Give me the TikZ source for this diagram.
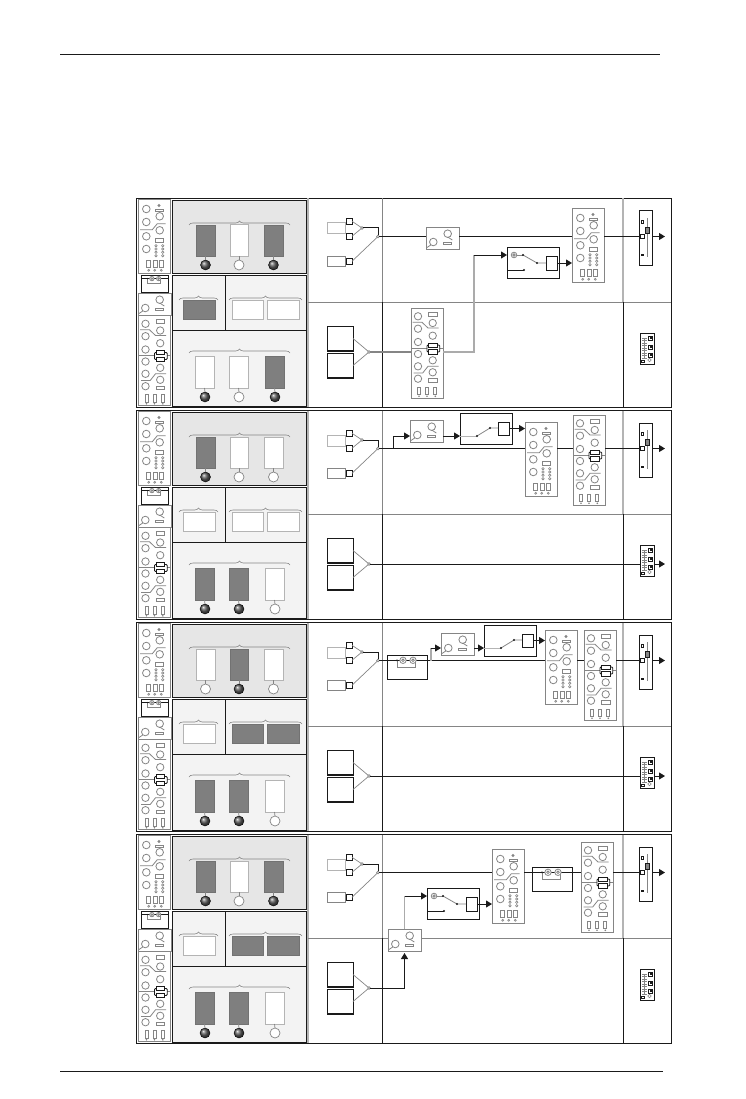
\documentclass[tikz,border=0pt]{standalone}
\usepackage{tikz}
\usetikzlibrary{arrows.meta,calc,decorations.pathreplacing,shapes.geometric}
\definecolor{dk}{HTML}{7F7F7F}
\definecolor{gr}{HTML}{858585}
\definecolor{lg}{HTML}{B4B4B4}
\definecolor{ink}{HTML}{1A1A1A}
\definecolor{topbg}{HTML}{E6E6E6}
\definecolor{lowbg}{HTML}{F3F3F3}
\def\rackS#1#2#3{\node[rackbox,minimum width=32pt,minimum height=74pt] (#1) at (#2,#3) {};
  \pic at (#1.north west) {rackshort};}
\def\rackT#1#2#3{\node[rackbox,minimum width=32pt,minimum height=90pt] (#1) at (#2,#3) {};
  \pic at (#1.north west) {racktall};}
\def\compB#1#2#3{\node[rackbox,minimum width=33pt,minimum height=22pt] (#1) at (#2,#3) {};
  \pic at (#1.north west) {compin};}
\def\dualB#1#2#3{\node[blackbox,minimum width=40pt,minimum height=24pt] (#1) at (#2,#3) {};
  \pic at (#1.north west) {dualin};}
\def\swA#1#2#3{\node[blackbox,minimum width=52pt,minimum height=31pt] (#1) at (#2,#3) {};
  \node[blackbox,anchor=center,minimum width=11pt,minimum height=14pt] (#1sq) at ($(#1.north west)+(44.5,16)$) {};
  \pic at (#1.north west) {swinA};}
\def\swB#1#2#3{\node[blackbox,minimum width=52pt,minimum height=31pt] (#1) at (#2,#3) {};
  \node[blackbox,anchor=center,minimum width=11.5pt,minimum height=13pt] (#1sq) at ($(#1.north west)+(44,15.5)$) {};
  \pic at (#1.north west) {swinB};}
\begin{document}
\begin{tikzpicture}[x=1pt,y=-1pt,>=Latex,
  every node/.style={inner sep=0pt,outer sep=0pt},
  rackbox/.style={rectangle,anchor=north west,draw=gr,fill=white,line width=.9pt},
  blackbox/.style={rectangle,anchor=north west,draw=ink,fill=white,line width=1pt},
  glyph/.style={draw=gr,line width=.8pt},
  knob/.style={glyph,fill=white},
  sig/.style={draw=ink,line width=1pt},
  sigG/.style={draw=lg!80!gr,line width=1.1pt},
  arr/.style={sig,-{Triangle[length=6pt,width=7pt]}},
  thinG/.style={draw=gr,line width=.7pt},
  frame/.style={draw=ink,line width=.9pt},
  junc/.style={circle,draw=gr,fill=white,line width=.6pt,minimum size=2.8pt},
  panel/.style={draw=ink,line width=.9pt},
  ampD/.style={rectangle,fill=dk,draw=dk!90!black,line width=.6pt},
  ampW/.style={rectangle,fill=white,draw=lg,line width=1pt},
  ballD/.style={circle,minimum size=10pt,draw=black,line width=.4pt,shading=ball,ball color=black!65},
  ballW/.style={circle,minimum size=10pt,draw=gr,fill=white,line width=.7pt},
  bracey/.style={draw=gr,line width=.6pt,decorate,decoration={brace,amplitude=4pt}},
  micbox/.style={rectangle,anchor=north west,draw=lg,fill=white,line width=1pt,minimum width=18pt},
  micsq/.style={rectangle,anchor=north west,draw=ink,fill=white,line width=.9pt,minimum width=6pt,minimum height=6.5pt},
  stereo/.style={rectangle,anchor=north west,draw=ink,fill=white,line width=.9pt,minimum width=26pt,minimum height=25pt},
  rackshort/.pic={
    \foreach \cx/\cy in {8.3/10,21.7/17.3,8.3/23,21.7/31.3,8.3/37.3,8.3/50}
      \draw[knob] (\cx,\cy) circle (3.8);
    \draw[glyph] (21,6.5) circle (1);
    \draw[glyph] (17.7,10) rectangle (25,12.7);
    \draw[glyph] (2,30.7) -- (14.3,30.7) -- (19.3,24.7) -- (27.7,24.7);
    \draw[glyph] (17.7,39.7) rectangle (25.3,43.7);
    \foreach \cx in {18,24.7} \foreach \cy in {46.7,50,53.3,56.7}
      \draw[glyph,line width=.6pt] (\cx,\cy) circle (1.2);
    \foreach \cx in {8.7,15.3,21.7} \draw[glyph] (\cx,61.3) rectangle ++(3.7,7.4);
    \foreach \cx in {10.7,16.7,23.3} \draw[glyph,line width=.6pt] (\cx,71.3) circle (1);
  },
  racktall/.pic={
    \foreach \cx/\cy in {7/8.3,21.7/15,7/20.7,21.7/27.7,7/34,7/46,21.7/52.3,7/58.3,21.7/64.3,7/70.7}
      \draw[knob] (\cx,\cy) circle (3.7);
    \draw[glyph] (17.7,4) rectangle (26,8);
    \draw[glyph] (1.7,14.3) -- (11,14.3) -- (17,20) -- (27.7,20);
    \draw[glyph] (2.7,65) -- (11.7,65) -- (17,58.3) -- (27.7,58.3);
    \draw[glyph] (0,40) -- (16,40);
    \draw[glyph] (28.7,40) -- (32,40);
    \draw[ink,line width=.8pt,rounded corners=1pt] (16,37) rectangle (28.7,44);
    \draw[ink,fill=white,line width=.8pt] (17.7,35) rectangle (26.3,39.3);
    \draw[ink,fill=white,line width=.8pt] (17.7,41.7) rectangle (26.3,46);
    \draw[glyph] (17.7,70.7) rectangle (26,74.3);
    \foreach \cx in {6.7,14.7,22.7} \draw[glyph] (\cx,79) rectangle ++(3,7.7);
    \foreach \cx in {8,16,24.3} \fill[gr] (\cx,88.3) circle (.9);
  },
  compin/.pic={
    \draw[knob] (7.3,15) circle (3.8);
    \draw[knob] (21.7,6.7) circle (3.8);
    \draw[glyph] (17.3,15) rectangle (25.7,17.7);
    \draw[glyph] (21.7,10) -- (26.3,13);
    \draw[glyph] (.7,20.7) -- (5,17.8);
  },
  dualin/.pic={
    \draw[ink,line width=1.4pt] (0,5.3) -- (40,5.3);
    \draw[gr,line width=.7pt] (10,5.3) -- (10,12) -- (28,12) -- (28,7);
    \fill[ink] (10,5.3) circle (1);
    \foreach \cx in {16,26} {
      \draw[knob] (\cx,5.3) circle (3.2);
      \draw[glyph] (\cx,5.3) circle (1.3);
    }
  },
  swinA/.pic={
    \draw[knob] (7,8) circle (2.8);
    \draw[glyph] (7,8) circle (1.2);
    \draw[glyph] (9.8,8) -- (16,8);
    \draw[glyph] (16,8) -- (30,16) -- (39,16);
    \draw[ink,line width=.8pt] (0,23) -- (17,23);
    \foreach \cx/\cy in {16/8,30/16,17/23} \fill[ink] (\cx,\cy) circle (1.1);
  },
  swinB/.pic={
    \draw[lg,line width=1pt] (0,23) -- (17,23);
    \draw[glyph] (17,23) -- (30,15) -- (38,15);
    \foreach \cx/\cy in {17/23,30/15} \fill[ink] (\cx,\cy) circle (1.1);
  },
  faderin/.pic={
    \draw[ink,fill=white,line width=.7pt] (2.3,9.7) rectangle ++(2.5,2.5);
    \draw[gr,line width=.8pt] (8,7) -- (8,46);
    \draw[ink,fill=gr,line width=.6pt] (6,16.5) rectangle ++(4,5.5);
    \fill[ink] (2,43) rectangle ++(2.5,2);
  },
  mixin/.pic={
    \draw[gr,line width=.6pt] (4,5) -- (4,25);
    \foreach \cy in {5,7.5,...,25} \draw[gr,line width=.5pt] (2,\cy) -- (6.5,\cy);
    \foreach \cy in {3,12,20} {
      \draw[ink,line width=.6pt] (8.5,\cy) rectangle ++(4,4);
      \fill[ink] (9.5,\cy+1) rectangle ++(2,2);
    }
    \draw[ink,fill=white,line width=.7pt] (1.5,27) rectangle ++(2.5,2.5);
    \draw[gr,line width=.5pt] (9.5,27) circle (1.8);
  }]
\useasboundingbox (0,0) rectangle (746,1099);
\coordinate (ruleTL) at (60,54);
\coordinate (ruleTR) at (660,54);
\coordinate (ruleBL) at (60,1071);
\coordinate (ruleBR) at (663,1071);
\draw[ink,line width=.7pt] (ruleTL) -- (ruleTR);
\draw[ink,line width=.7pt] (ruleBL) -- (ruleBR);
% the part every row shares
\foreach \r/\dy/\ta/\tb/\tc/\ma/\mb/\mc/\ba/\bb/\bc in {
  a/0/D/W/D/D/W/W/W/W/D,
  b/212/D/W/W/W/W/W/D/D/W,
  c/424/W/D/W/W/D/D/D/D/W,
  d/636/D/W/D/W/D/D/D/D/W}{
\begin{scope}[yshift=-\dy pt]
  \draw[frame] (136.5,198.5) rectangle (671,407);
  \draw[lg,line width=1.4pt] (308,198.5) -- (308,407);
  \draw[gr,line width=.9pt] (308,302.3) -- (671,302.3);
  \draw[gr,line width=.9pt] (382,198.5) -- (382,302.3);
  \draw[ink,line width=.9pt] (382,302.3) -- (382,407);
  \draw[lg,line width=1.8pt] (623,198.5) -- (623,302.3);
  \draw[ink,line width=.9pt] (623,302.3) -- (623,407);
  % left column
  \rackS{\r l1}{138}{199}
  \node[blackbox,minimum width=27pt,minimum height=17pt] (\r l2) at (141,275) {};
  \pic[scale=.68] at (\r l2.north west) {dualin};
  \compB{\r l3}{138}{293}
  \rackT{\r l4}{138.5}{315.5}
  % amp panels
  \draw[panel,fill=topbg] (172,200) rectangle (306,273);
  \draw[panel,fill=lowbg] (172,275) rectangle (306,406);
  \draw[panel] (172,330) -- (306,330);
  \draw[panel] (225,275) -- (225,330);
  \draw[bracey] (189,225) -- (290,225);
  \node[amp\ta,minimum width=19pt,minimum height=31pt] (\r t1) at (205.5,240.5) {};
  \node[amp\tb,minimum width=18pt,minimum height=31pt] (\r t2) at (239,240.5) {};
  \node[amp\tc,minimum width=19pt,minimum height=31pt] (\r t3) at (273.5,240.5) {};
  \node[ball\ta] (\r tb1) at (205.5,265) {};
  \node[ball\tb] (\r tb2) at (239,265) {};
  \node[ball\tc] (\r tb3) at (273.5,265) {};
  \foreach \n in {1,2,3} \draw[thinG] (\r t\n.south) -- (\r tb\n.north);
  \draw[bracey] (179,300) -- (218,300);
  \draw[bracey] (229,300) -- (302,300);
  \node[amp\ma,minimum width=32pt,minimum height=19pt] (\r m1) at (199,309.5) {};
  \node[amp\mb,minimum width=31pt,minimum height=19pt] (\r m2) at (247.5,309.5) {};
  \node[amp\mc,minimum width=32pt,minimum height=19pt] (\r m3) at (283,309.5) {};
  \draw[bracey] (189,353) -- (290,353);
  \node[amp\ba,minimum width=19pt,minimum height=32pt] (\r b1) at (204.5,372) {};
  \node[amp\bb,minimum width=19pt,minimum height=32pt] (\r b2) at (238.5,372) {};
  \node[amp\bc,minimum width=19pt,minimum height=32pt] (\r b3) at (274.5,372) {};
  \node[ballD] (\r bb1) at (205,397) {};
  \node[ball\bb] (\r bb2) at (239,397) {};
  \node[ball\bc] (\r bb3) at (275,397) {};
  \foreach \n in {1,2,3} \draw[thinG] (\r b\n.south) -- (\r bb\n.north);
  % inputs
  \node[micbox,minimum height=11pt] (\r mic1) at (327,223) {};
  \node[micbox,minimum height=10pt,draw=gr] (\r mic3) at (327,256) {};
  \node[micsq] (\r s1) at (346,218) {};
  \node[micsq] (\r s2) at (346,233) {};
  \node[micsq] (\r s3) at (346,258) {};
  \node[junc] (\r mrg) at (362,228) {};
  \node[junc] (\r sum) at (378,236.5) {};
  \coordinate (\r elb) at (378,228);
  \draw[thinG] (\r s1.east) -- (\r mrg);
  \draw[thinG] (\r s2.east) -- (\r mrg);
  \draw[thinG] (\r s3.east) -- (\r sum);
  \draw[sig] (\r mrg) -- (\r elb) -- (\r sum);
  \node[stereo] (\r st1) at (327,326) {};
  \node[stereo] (\r st2) at (327,353) {};
  \draw[ink,line width=1.3pt] (\r st1.south west) -- (\r st1.south east);
  \draw[ink,line width=1.3pt] (\r st2.south west) -- (\r st2.south east);
  \node[junc] (\r smrg) at (369,352) {};
  \draw[thinG] (\r st1.east) -- (\r smrg);
  \draw[thinG] (\r st2.east) -- (\r smrg);
  % outputs
  \node[blackbox,minimum width=13pt,minimum height=54pt] (\r fad) at (639,211) {};
  \pic at (\r fad.north west) {faderin};
  \node[micsq,minimum width=4pt,minimum height=4pt] (\r fq) at (640.5,234.5) {};
  \coordinate (\r out) at (665,236.5);
  \draw[arr] (\r fad.east |- \r sum) -- (\r out);
  \node[blackbox,minimum width=14pt,minimum height=31pt] (\r mix) at (640,333) {};
  \pic at (\r mix.north west) {mixin};
\end{scope}
}
% row 1
\compB{acomp}{426}{227}
\rackS{aeq}{572}{208}
\swA{asw}{507}{247}
\rackT{aeqq}{411}{308}
\coordinate (aturn) at (474,255);
\draw[sig] (asum) -- (acomp.west |- asum);
\draw[sig] (acomp.east |- asum) -- (aeq.west |- asum);
\draw[sig] (aeq.east |- asum) -- (afq.west);
\draw[sigG] (aeqq.east |- asmrg) -| (aturn);
\draw[arr] (aturn) -- (asw.west |- aturn);
\draw[arr] (aswsq) -- (aeq.west |- aswsq);
\draw[thinG,line width=1.1pt] (asmrg) -- (aeqq.west |- asmrg);
% row 2
\begin{scope}[yshift=-212pt]
  \compB{bcomp}{410}{208}
  \swB{bsw}{460}{201}
  \rackS{beq}{525}{210}
  \rackT{beqq}{573}{203}
  \coordinate (bturn) at (393,224);
  \coordinate (bmout) at (665,352);
\end{scope}
\draw[sig] (bsum) -- (beq.west |- bsum);
\draw[sig] (bturn |- bsum) -- (bturn);
\draw[arr] (bturn) -- (bcomp.west |- bturn);
\draw[arr] (bcomp.east |- bturn) -- (bsw.west |- bturn);
\draw[arr] (bswsq) -- (beq.west |- bswsq);
\draw[sig] (beq.east |- bsum) -- (beqq.west |- bsum);
\draw[sig] (beqq.east |- bsum) -- (bfq.west);
\draw[sig] (bsmrg) -- (bmix.west |- bsmrg);
\draw[arr] (bmix.east |- bsmrg) -- (bmout);
% row 3
\begin{scope}[yshift=-424pt]
  \compB{ccomp}{441}{209}
  \swB{csw}{484}{201}
  \rackS{ceq}{545}{206}
  \rackT{ceqq}{584}{206}
  \coordinate (cturn) at (431,224);
  \coordinate (cmout) at (665,352);
\end{scope}
\draw[sig] (csum) -- (ceq.west |- csum);
\begin{scope}[yshift=-424pt]
  \dualB{cdual}{387}{231}
\end{scope}
\draw[sigG] (cturn |- csum) -- (cturn);
\draw[arr] (cturn) -- (ccomp.west |- cturn);
\draw[arr] (ccomp.east |- cturn) -- (csw.west |- cturn);
\draw[arr] (cswsq) -- (ceq.west |- cswsq);
\draw[sig] (ceq.east |- csum) -- (ceqq.west |- csum);
\draw[sig] (ceqq.east |- csum) -- (cfq.west);
\draw[sig] (csmrg) -- (cmix.west |- csmrg);
\draw[arr] (cmix.east |- csmrg) -- (cmout);
% row 4
\begin{scope}[yshift=-636pt]
  \rackS{deq}{492}{213}
  \dualB{ddual}{532}{231}
  \rackT{deqq}{581}{206}
  \swA{dsw}{427}{252}
  \compB{dcomp}{388}{293}
  \coordinate (dturn) at (404.5,260);
\end{scope}
\draw[sig] (dsum) -- (deq.west |- dsum);
\draw[sig] (deq.east |- dsum) -- (ddual.west |- dsum);
\draw[sig] (ddual.east |- dsum) -- (deqq.west |- dsum);
\draw[sig] (deqq.east |- dsum) -- (dfq.west);
\draw[arr,shorten >=2pt] (dsmrg) -| (dcomp.south);
\draw[sigG] (dcomp.north) -- (dturn);
\draw[arr] (dturn) -- (dsw.west |- dturn);
\draw[arr] (dswsq) -- (deq.west |- dswsq);
\end{tikzpicture}
\end{document}
